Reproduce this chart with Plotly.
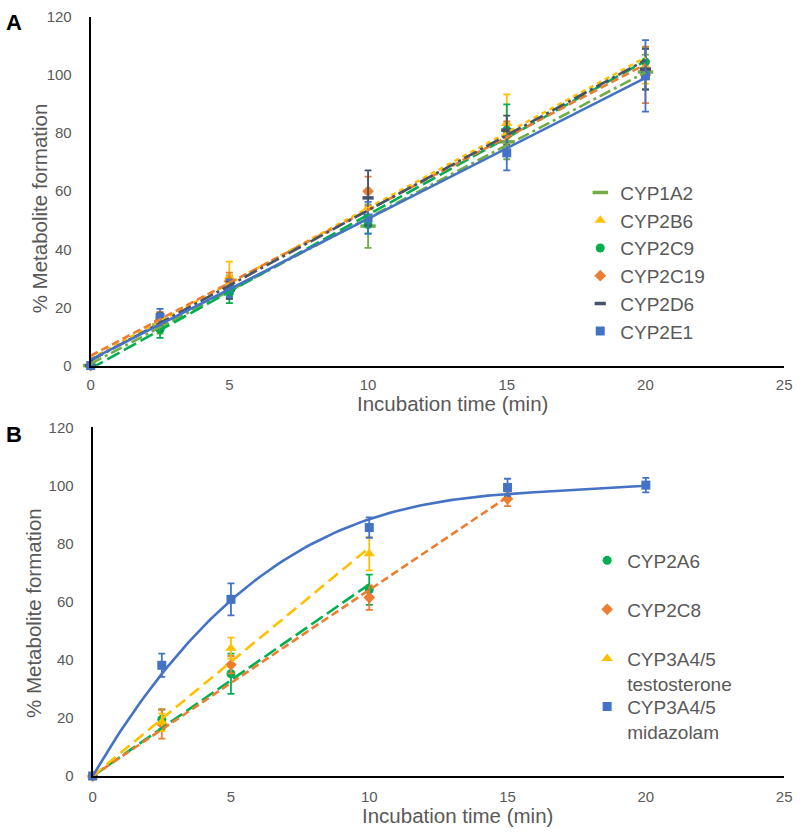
import numpy as np
import plotly.graph_objects as go

# ---------------- Panel A data ----------------
time_a = [0, 2.5, 5, 10, 15, 20]
cyp1a2 = [0, 14.0, 27.0, 48.0, 77.0, 101.0]
cyp1a2_err = [0, 3.0, 4.0, 7.5, 6.0, 6.0]
cyp2b6 = [0, 15.0, 30.6, 54.3, 83.3, 103.0]
cyp2b6_err = [0, 3.0, 5.2, 5.0, 10.0, 6.0]
cyp2c9 = [0, 12.5, 25.0, 48.5, 81.1, 104.5]
cyp2c9_err = [0, 3.0, 3.5, 3.0, 8.8, 5.0]
cyp2c19 = [0, 15.5, 29.0, 60.0, 79.0, 100.0]
cyp2c19_err = [0, 3.0, 3.0, 5.0, 5.0, 9.7]
cyp2d6 = [0, 15.0, 26.0, 57.7, 81.0, 102.0]
cyp2d6_err = [0, 3.0, 3.0, 9.5, 5.0, 7.0]
cyp2e1 = [0, 16.5, 26.6, 50.8, 73.2, 99.7]
cyp2e1_err = [0, 3.0, 3.0, 5.5, 6.0, 12.3]

# ---------------- Panel B data ----------------
time_2a6 = [0, 2.5, 5, 10]
cyp2a6 = [0, 19.5, 35.2, 64.1]
cyp2a6_err = [0, 3.4, 6.9, 5.2]
time_2c8 = [0, 2.5, 5, 10, 15]
cyp2c8 = [0, 17.9, 38.3, 61.4, 95.4]
cyp2c8_err = [0, 5.0, 3.0, 4.2, 2.5]
time_testo = [0, 2.5, 5, 10]
cyp3a4_testo = [0, 18.5, 44.0, 76.5]
cyp3a4_testo_err = [0, 3.0, 3.6, 5.7]
time_mdz = [0, 2.5, 5, 10, 15, 20]
cyp3a4_mdz = [0, 38.1, 60.8, 85.5, 99.3, 100.1]
cyp3a4_mdz_err = [0, 4.0, 5.5, 3.5, 3.0, 2.5]
# polynomial (order 3) trendline of CYP3A4/5 midazolam, coefficients
mdz_trend_coef = [0.01787, -0.92, 16.25, 0.0]

x_ticks = [0, 5, 10, 15, 20, 25]
y_ticks = [0, 20, 40, 60, 80, 100, 120]

C_LGREEN = "#70AD47"
C_YELLOW = "#FFC000"
C_GREEN = "#00B050"
C_ORANGE = "#ED7D31"
C_DARK = "#44546A"
C_BLUE = "#4472C4"

FONT = "Arial, Liberation Sans, sans-serif"
GRAY = "#595959"
LEG_SIZE = 19

fig = go.Figure()


def add_series(x, y, err, name, color, symbol, size, xa, ya, legend, mline=None):
    marker = dict(symbol=symbol, size=size, color=color)
    marker["line"] = dict(width=mline, color=color) if mline else dict(width=0)
    fig.add_trace(go.Scatter(
        x=x, y=y, mode="markers", name=name, marker=marker,
        error_y=dict(type="data", array=err, color=color, thickness=1.8, width=3.5),
        xaxis=xa, yaxis=ya, legend=legend, cliponaxis=False,
    ))


def linear_fit(x, y):
    slope, intercept = np.polyfit(x, y, 1)
    xs = np.array([min(x), max(x)], dtype=float)
    return xs, slope * xs + intercept


def origin_fit(x, y):
    x = np.asarray(x, float)
    y = np.asarray(y, float)
    slope = (x * y).sum() / (x * x).sum()
    xs = np.array([x.min(), x.max()])
    return xs, slope * xs


def poly_curve(x, coef):
    xs = np.linspace(min(x), max(x), 120)
    return xs, np.polyval(coef, xs)


def add_line(xs, ys, color, dash, xa, ya, width=2.6):
    fig.add_trace(go.Scatter(
        x=xs, y=ys, mode="lines", line=dict(color=color, width=width, dash=dash),
        showlegend=False, hoverinfo="skip", xaxis=xa, yaxis=ya, cliponaxis=False,
    ))


# Panel A series
add_series(time_a, cyp1a2, cyp1a2_err, "CYP1A2", C_LGREEN, "line-ew", 11, "x", "y", "legend", mline=3.5)
add_series(time_a, cyp2b6, cyp2b6_err, "CYP2B6", C_YELLOW, "triangle-up", 10, "x", "y", "legend")
add_series(time_a, cyp2c9, cyp2c9_err, "CYP2C9", C_GREEN, "circle", 9, "x", "y", "legend")
add_series(time_a, cyp2c19, cyp2c19_err, "CYP2C19", C_ORANGE, "diamond", 9, "x", "y", "legend")
add_series(time_a, cyp2d6, cyp2d6_err, "CYP2D6", C_DARK, "line-ew", 8, "x", "y", "legend", mline=3.5)
add_series(time_a, cyp2e1, cyp2e1_err, "CYP2E1", C_BLUE, "square", 9, "x", "y", "legend")

# Panel A trendlines (linear)
add_line(*linear_fit(time_a, cyp1a2), C_LGREEN, "12px,4px,3px,4px", "x", "y")
add_line(*linear_fit(time_a, cyp2b6), C_YELLOW, "5px,4px", "x", "y")
add_line(*linear_fit(time_a, cyp2c9), C_GREEN, "14px,5px", "x", "y")
add_line(*linear_fit(time_a, cyp2c19), C_ORANGE, "8px,4px", "x", "y")
add_line(*linear_fit(time_a, cyp2d6), C_DARK, "14px,4px,3px,4px", "x", "y")
add_line(*linear_fit(time_a, cyp2e1), C_BLUE, "solid", "x", "y")

# Panel B series
add_series(time_2a6, cyp2a6, cyp2a6_err, "CYP2A6", C_GREEN, "circle", 9, "x2", "y2", "legend2")
add_series(time_2c8, cyp2c8, cyp2c8_err, "CYP2C8", C_ORANGE, "diamond", 9, "x2", "y2", "legend3")
add_series(time_testo, cyp3a4_testo, cyp3a4_testo_err, "CYP3A4/5<br>testosterone", C_YELLOW,
           "triangle-up", 10, "x2", "y2", "legend4")
add_series(time_mdz, cyp3a4_mdz, cyp3a4_mdz_err, "CYP3A4/5<br>midazolam", C_BLUE,
           "square", 9, "x2", "y2", "legend5")

# Panel B trendlines
add_line(*origin_fit(time_2a6, cyp2a6), C_GREEN, "14px,5px", "x2", "y2")
add_line(*origin_fit(time_2c8, cyp2c8), C_ORANGE, "8px,4px", "x2", "y2")
add_line(*origin_fit(time_testo, cyp3a4_testo), C_YELLOW, "12px,6px", "x2", "y2")
add_line(*poly_curve(time_mdz, mdz_trend_coef), C_BLUE, "solid", "x2", "y2")

W, H = 802, 834


def px(v):
    return v / W


def py(v):
    return 1 - v / H


axis_common = dict(
    showline=True, linecolor="black", linewidth=2, showgrid=False, zeroline=False,
    ticks="", tickfont=dict(family=FONT, size=15, color=GRAY), fixedrange=True,
)

leg_common = dict(xanchor="left", yanchor="middle", bgcolor="rgba(0,0,0,0)",
                  font=dict(family=FONT, size=LEG_SIZE, color=GRAY))

fig.update_layout(
    width=W, height=H, margin=dict(l=0, r=0, t=0, b=0),
    paper_bgcolor="white", plot_bgcolor="white",
    font=dict(family=FONT, color=GRAY),
    xaxis=dict(domain=[px(88), px(792)], range=[0, 25], tickvals=x_ticks, anchor="y",
               ticklabelstandoff=4, **axis_common),
    yaxis=dict(domain=[py(364), py(8)], range=[0, 120], tickvals=y_ticks, anchor="x",
               ticklabelstandoff=14, **axis_common),
    xaxis2=dict(domain=[px(90), px(792)], range=[0, 25], tickvals=x_ticks, anchor="y2",
                ticklabelstandoff=6, **axis_common),
    yaxis2=dict(domain=[py(783), py(427)], range=[0, 120], tickvals=y_ticks, anchor="x2",
                ticklabelstandoff=14, **axis_common),
    legend=dict(x=px(585), y=py(258.5), **leg_common),
    legend2=dict(x=px(592), y=py(563), **leg_common),
    legend3=dict(x=px(592), y=py(613), **leg_common),
    legend4=dict(x=px(592), y=py(676), valign="top", **leg_common),
    legend5=dict(x=px(592), y=py(725), valign="top", **leg_common),
    showlegend=True,
)

annotations = [
    dict(text="<b>A</b>", x=px(0), y=py(14), xanchor="left", yanchor="middle",
         font=dict(family=FONT, size=22, color="black")),
    dict(text="<b>B</b>", x=px(0), y=py(434), xanchor="left", yanchor="middle",
         font=dict(family=FONT, size=22, color="black")),
    dict(text="Incubation time (min)", x=px(455), y=py(403), xanchor="center", yanchor="middle",
         font=dict(family=FONT, size=20.5, color=GRAY)),
    dict(text="Incubation time (min)", x=px(460), y=py(823), xanchor="center", yanchor="middle",
         font=dict(family=FONT, size=20.5, color=GRAY)),
    dict(text="% Metabolite formation", x=px(36), y=py(203), xanchor="center", yanchor="middle",
         textangle=-90, font=dict(family=FONT, size=20.5, color=GRAY)),
    dict(text="% Metabolite formation", x=px(30), y=py(617), xanchor="center", yanchor="middle",
         textangle=-90, font=dict(family=FONT, size=20.5, color=GRAY)),
]
for a in annotations:
    a.update(xref="paper", yref="paper", showarrow=False)
fig.update_layout(annotations=annotations)

fig.write_html(
    "out.html",
    config={"displayModeBar": False},
    post_script="document.body.style.margin='0px';document.body.style.overflow='hidden';",
)
